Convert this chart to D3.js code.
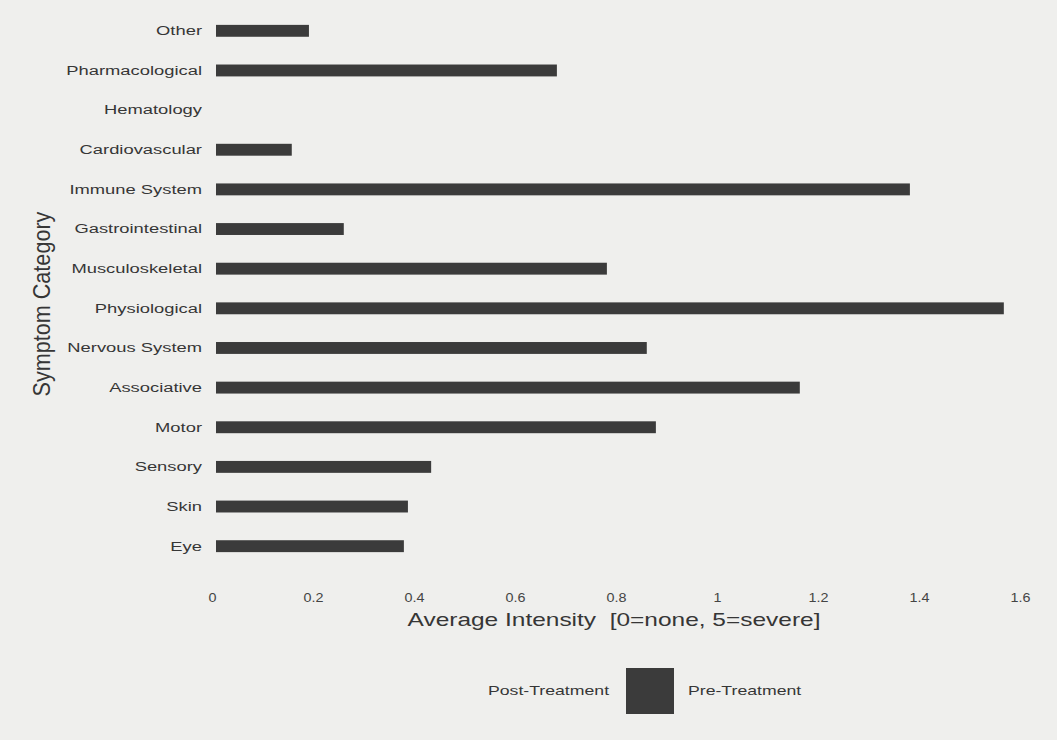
<!DOCTYPE html>
<html>
<script src="https://d3js.org/d3.v7.min.js"></script>
<head>
<style>
  body {margin: 0; background: #efefed; font-family: "Liberation Sans", Arial, sans-serif;}
  .axis .domain {display: none;}
  .axis line {display: none;}
</style>
</head>
<body>
<svg id="chart" width="1057" height="740"></svg>
<script>
// categories listed bottom to top as on the chart
var categories = ["Eye", "Skin", "Sensory", "Motor", "Associative", "Nervous System",
  "Physiological", "Musculoskeletal", "Gastrointestinal", "Immune System",
  "Cardiovascular", "Hematology", "Pharmacological", "Other"];
var preTreatment = [0.376, 0.384, 0.43, 0.875, 1.16, 0.857, 1.564, 0.778, 0.257, 1.378, 0.154, 0, 0.679, 0.188];
var xTicks = [0, 0.2, 0.4, 0.6, 0.8, 1, 1.2, 1.4, 1.6];
var legendKeys = ["Post-Treatment", "Pre-Treatment"];

var svg = d3.select("#chart");
var ink = "#363636";
var stretch = "scale(1.36,1)";   // the scanned original is wider than tall

var x = d3.scaleLinear().domain([0, 1.6]).range([214, 1022]);
var y = d3.scaleBand()
    .domain(categories.slice().reverse())
    .range([11, 566])
    .paddingInner(0.7)
    .paddingOuter(0.35);

var data = categories.map(function(c, i) { return {cat: c, value: preTreatment[i]}; });

svg.append("g")
    .selectAll("rect")
    .data(data.filter(function(d) { return d.value > 0; }))
    .enter().append("rect")
    .attr("x", x(0) + 2)
    .attr("y", function(d) { return y(d.cat); })
    .attr("width", function(d) { return x(d.value) - x(0) - 2; })
    .attr("height", y.bandwidth())
    .attr("fill", "#3b3b3b");

// category axis
var ya = svg.append("g")
    .attr("class", "axis")
    .attr("transform", "translate(202,0)")
    .call(d3.axisLeft(y).tickSize(0).tickPadding(0));
ya.selectAll("text")
    .attr("fill", ink)
    .attr("font-size", 13.5)
    .attr("transform", stretch)
    .attr("font-family", "Liberation Sans, Arial, sans-serif");

// value axis
var xa = svg.append("g")
    .attr("class", "axis")
    .attr("transform", "translate(-2,590)")
    .call(d3.axisBottom(x).tickValues(xTicks).tickSize(0).tickFormat(d3.format("")));
xa.selectAll("text")
    .attr("fill", "#444")
    .attr("font-size", 12.5)
    .attr("transform", "scale(1.15,1)")
    .attr("font-family", "Liberation Sans, Arial, sans-serif");

svg.append("text")
    .attr("transform", "translate(614,626) " + stretch)
    .attr("text-anchor", "middle")
    .attr("font-size", 18)
    .attr("fill", ink)
    .attr("xml:space", "preserve")
    .text("Average Intensity  [0=none, 5=severe]");

svg.append("text")
    .attr("transform", "translate(50,304) rotate(-90) scale(1.08,1.15)")
    .attr("text-anchor", "middle")
    .attr("font-size", 20)
    .attr("fill", ink)
    .text("Symptom Category");

// legend
var legendFill = d3.scaleOrdinal().domain(legendKeys).range(["none", "#3b3b3b"]);
var lg = svg.append("g")
    .selectAll("g")
    .data(legendKeys)
    .enter().append("g")
    .attr("transform", function(d, i) { return "translate(" + (426 + i * 200) + ",668)"; });

lg.append("rect")
    .attr("width", 48)
    .attr("height", 46)
    .attr("fill", legendFill);

lg.append("text")
    .attr("transform", "translate(62,27) " + stretch)
    .attr("font-size", 13)
    .attr("fill", ink)
    .text(function(d) { return d; });
</script>
</body>
</html>
